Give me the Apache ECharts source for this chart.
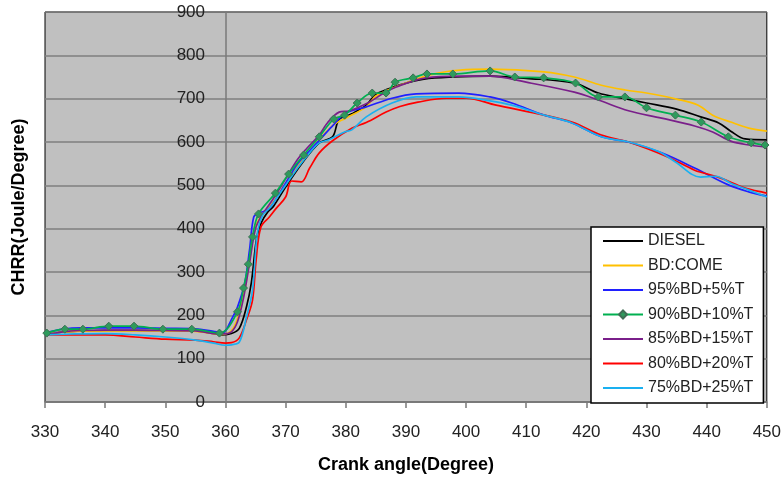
<!DOCTYPE html>
<html>
<head>
<meta charset="utf-8">
<script src="https://cdn.jsdelivr.net/npm/echarts@6/dist/echarts.min.js"></script>
<style>
html,body{margin:0;padding:0;background:#fff;}
#chart{width:784px;height:481px;}
</style>
</head>
<body>
<div id="chart"></div>
<script>
// ---- data (crank angle in degrees, CHRR in J/deg) ----
const seriesNames = ['DIESEL', 'BD:COME', '95%BD+5%T', '90%BD+10%T', '85%BD+15%T', '80%BD+20%T', '75%BD+25%T'];
const xTicks = [330, 340, 350, 360, 370, 380, 390, 400, 410, 420, 430, 440, 450];
const yTicks = [0, 100, 200, 300, 400, 500, 600, 700, 800, 900];

const diesel = [[330,155],[333,162],[336,164],[340,165],[345,165],[350,165],[355,164],[358,158],[359.5,155],[361,158],[362.3,170],[363.5,220],[364.3,275],[365.2,380],[366,415],[367,438],[368,452],[370,496],[372.8,552],[375.6,598],[377.8,612],[378.9,652],[381,665],[383.4,685],[385,710],[387,722],[389,732],[393,745],[398,750],[404,752],[410,747],[418,736],[422,713],[426,701],[430,690],[435,676],[439,658],[442,644],[444,625],[446.4,607],[450,605]];
const bdcome = [[330,157],[335,163],[340,164],[345,164],[350,164],[355,163],[358,158],[359.5,156],[361,165],[362,192],[363,245],[364,325],[365,405],[366,430],[367,445],[368,462],[370,505],[372,545],[374,580],[376,612],[378,640],[380,655],[383.4,681],[385,706],[389,731],[394,755],[399,766],[404,768],[413,762],[418,750],[422.5,731],[426.5,720],[430,713],[435,699],[438.6,685],[441,662],[444,646],[447,632],[450,625]];
const bd95 = [[330,159],[333,168],[336,171],[340,171],[345,171],[350,170],[355,169],[358,163],[359.5,160],[361.2,196],[362,219],[363.2,274],[364,351],[364.7,427],[365.5,436],[367,443],[368,460],[370,505],[372,550],[374,580],[376,610],[378,640],[380,667],[383.4,681],[387.7,701],[391.7,711],[398.8,713],[404,704],[407.6,690],[413,662],[417.6,644],[422.5,612],[427,600],[432.5,575],[438,540],[443.6,501],[447,485],[450,475]];
const bd90 = [[330.3,159],[333.3,168],[336.3,168],[340.6,175],[344.8,175],[349.6,168],[354.4,168],[359,159],[362,208],[363,263],[363.8,318],[364.5,381],[365.5,434],[368.3,482],[370.5,526],[373,570],[375.6,612],[378,653],[379.8,662],[381.9,690],[384.4,713],[386.7,713],[388.2,738],[391.2,748],[393.5,757],[397.8,757],[404,764],[408.1,750],[412.9,748],[418.2,736],[422,704],[426.4,704],[430,679],[434.8,662],[439.1,646],[443.6,612],[447.4,598],[449.7,593]];
const bd85 = [[330,155],[333,162],[336,165],[340,166],[345,166],[350,165],[355,164],[358,158],[359.5,157],[361,162],[362,185],[363,240],[364,320],[365,400],[366,430],[367,450],[368,470],[370,515],[372,560],[373.5,585],[375.6,616],[377,645],[378.9,669],[380.6,672],[383.9,692],[386,710],[388.4,727],[393.3,748],[399,752],[404,752],[410,738],[418,715],[422,697],[427,672],[432.5,655],[438,637],[441,623],[444,602],[447,593],[450,588]];
const bd80 = [[330,155],[335,155],[340,155],[345,150],[350,145],[355,143],[358,139],[360,136],[361,137],[362.3,148],[363.5,190],[364.5,235],[365.1,328],[365.9,404],[367.3,427],[368.5,448],[370,473],[371,510],[372.6,508],[374,540],[375.6,575],[377.8,603],[381,632],[383.4,645],[386.7,669],[389,682],[392,692],[396.7,701],[400,701],[405,685],[412,665],[417.6,646],[422.5,616],[427,600],[433.6,565],[438,535],[441.9,519],[446.4,494],[450,482]];
const bd75 = [[330,155],[335,157],[340,158],[345,155],[350,150],[355,143],[358,136],[360,131],[361,132],[362.3,138],[363.5,196],[364.5,258],[365.3,390],[366.2,431],[367.5,450],[368.5,470],[370,500],[372,540],[374,575],[375.6,598],[377.2,605],[379.8,623],[381,628],[383.4,658],[387.7,690],[391.7,704],[398.8,704],[404,695],[407.6,685],[413,662],[417.6,644],[422.5,612],[427,600],[432,578],[434.8,554],[439,519],[441.5,521],[444,505],[447,489],[450,473]];

const seriesData = [diesel, bdcome, bd95, bd90, bd85, bd80, bd75];
const seriesColors = ['#000000', '#ffc000', '#2020ff', '#00b050', '#7a1f8a', '#ff0000', '#1ab0f0'];

const chart = echarts.init(document.getElementById('chart'), null, {renderer: 'canvas'});

const series = seriesNames.map((name, i) => {
  const isMarked = i === 3;
  return {
    name: name,
    type: 'line',
    data: seriesData[i],
    smooth: 0.35,
    symbol: isMarked ? 'diamond' : 'none',
    symbolSize: 8,
    showSymbol: isMarked,
    z: isMarked ? 5 : 2,
    lineStyle: {color: seriesColors[i], width: 1.7},
    itemStyle: isMarked
      ? {color: '#2e9a5c', borderColor: '#3f6f55', borderWidth: 1}
      : {color: 'rgba(0,0,0,0)', borderWidth: 0}
  };
});

chart.setOption({
  animation: false,
  grid: {
    left: 45, right: 16, top: 12, bottom: 79,
    show: true,
    backgroundColor: '#c0c0c0',
    borderColor: '#000000',
    borderWidth: 1
  },
  legend: {
    data: seriesNames,
    orient: 'vertical',
    left: 591,
    top: 227,
    padding: [6, 10, 7, 11],
    itemWidth: 40,
    itemHeight: 10,
    itemGap: 8.5,
    backgroundColor: '#ffffff',
    borderColor: '#000000',
    borderWidth: 1.5,
    textStyle: {fontFamily: 'Liberation Sans', fontSize: 16, lineHeight: 16, color: '#222222'}
  },
  xAxis: {
    type: 'value',
    min: 330, max: 450, interval: 10,
    name: 'Crank angle(Degree)',
    nameLocation: 'middle',
    nameGap: 54,
    nameTextStyle: {fontFamily: 'Liberation Sans', fontWeight: 'bold', fontSize: 18, color: '#000'},
    axisLine: {show: true, onZero: false, lineStyle: {color: '#7a7a7a', width: 1.5}},
    axisTick: {show: true, length: 6, lineStyle: {color: '#7a7a7a', width: 1.5}},
    axisLabel: {
      margin: 22,
      fontFamily: 'Liberation Sans', fontSize: 17, color: '#222222',
      formatter: v => (xTicks.indexOf(v) >= 0 ? String(v) : '')
    },
    splitLine: {show: false}
  },
  yAxis: {
    type: 'value',
    min: 0, max: 900, interval: 100,
    position: 'left',
    offset: -181,
    name: 'CHRR(Joule/Degree)',
    nameLocation: 'middle',
    nameGap: 198,
    nameTextStyle: {fontFamily: 'Liberation Sans', fontWeight: 'bold', fontSize: 18, color: '#000'},
    axisLine: {show: true, lineStyle: {color: '#7a7a7a', width: 1.5}},
    axisTick: {show: false},
    axisLabel: {
      margin: 21,
      fontFamily: 'Liberation Sans', fontSize: 17, color: '#222222',
      formatter: v => (yTicks.indexOf(v) >= 0 ? String(v) : '')
    },
    splitLine: {show: true, lineStyle: {color: '#7f7f7f', width: 1.5}}
  },
  series: series
});
</script>
</body>
</html>
